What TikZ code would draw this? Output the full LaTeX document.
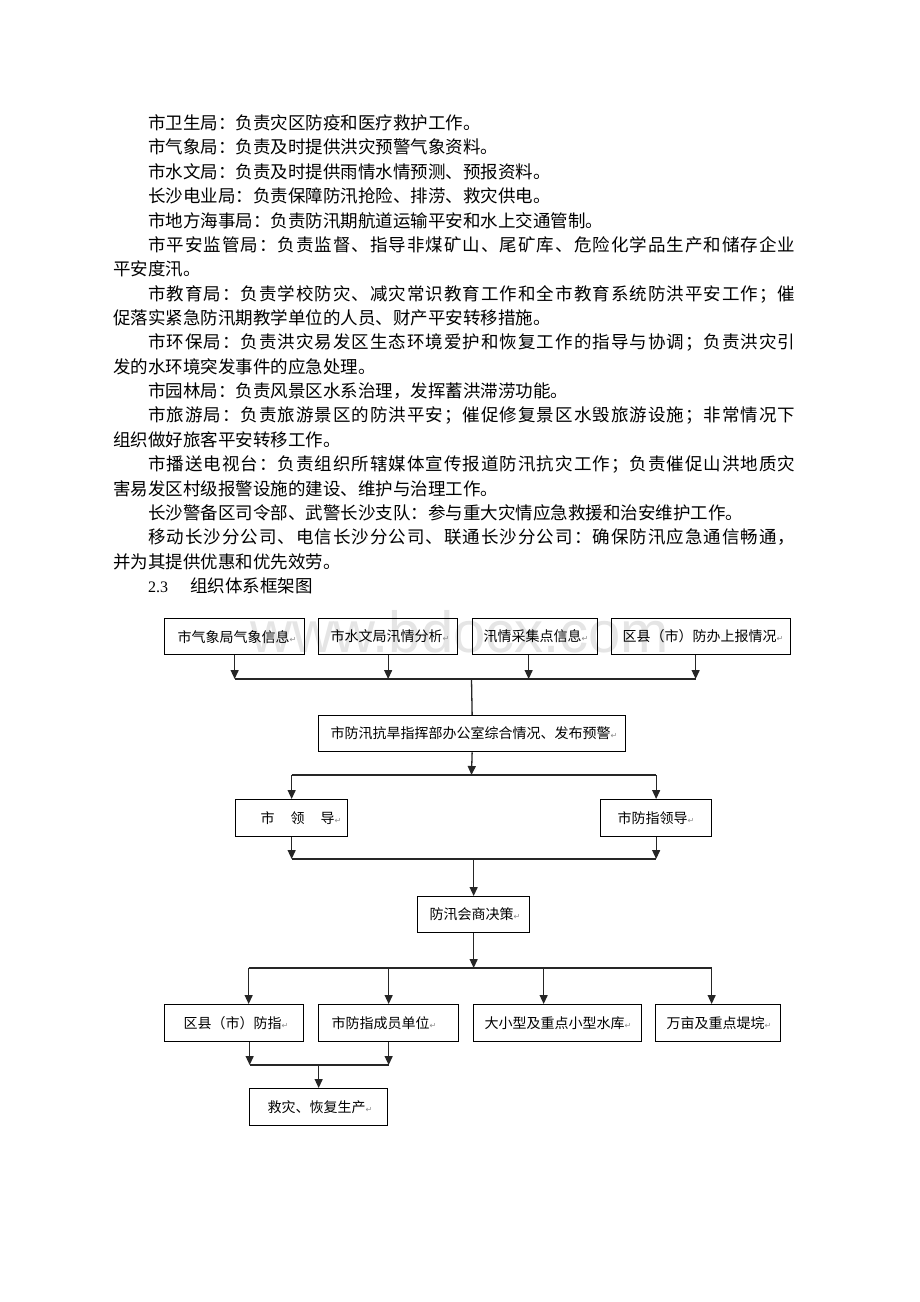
\documentclass[tikz,border=0pt]{standalone}
\usepackage{fontspec}
\usetikzlibrary{arrows.meta,calc}
\newfontfamily\cjk{Noto Sans CJK SC}
\newfontfamily\tnr{Liberation Serif}
\newfontfamily\dvs{DejaVu Sans}
\newfontfamily\arl{Liberation Sans}
\ExplSyntaxOn
\NewDocumentCommand\spreadline{mm}{\hbox_to_wd:nn{#1}{\tl_map_inline:nn{#2}{##1\hfil}\unskip}}
\ExplSyntaxOff
\newcommand\bodyfont{\cjk\fontsize{17.5pt}{20pt}\selectfont}
\newcommand\boxfont{\cjk\fontsize{14pt}{16pt}\selectfont}
\newcommand\bx[3]{\makebox[#1pt][l]{\hspace*{#2pt}#3{\dvs\fontsize{8pt}{8pt}\selectfont\color{black!45}↵}}}
\tikzset{
  txt/.style={anchor=base west, inner sep=0pt, font=\bodyfont},
  box/.style={draw=black, line width=1.3pt, inner sep=0pt, minimum height=36pt, anchor=north west, font=\boxfont},
  conn/.style={line width=1.3pt, draw=black!85},
  arr/.style={conn, -{Triangle[length=9pt,width=8pt]}},
}
\begin{document}
\begin{tikzpicture}[x=1pt,y=-1pt]
\useasboundingbox (0,0) rectangle (920,1302);
\fill[white] (0,0) rectangle (920,1302);
% body text
\node[txt] (t1) at (148,129.5) {市卫生局：负责灾区防疫和医疗救护工作。};
\node[txt] (t2) at (148,153.9) {市气象局：负责及时提供洪灾预警气象资料。};
\node[txt] (t3) at (148,178.2) {市水文局：负责及时提供雨情水情预测、预报资料。};
\node[txt] (t4) at (148,202.6) {长沙电业局：负责保障防汛抢险、排涝、救灾供电。};
\node[txt] (t5) at (148,227.0) {市地方海事局：负责防汛期航道运输平安和水上交通管制。};
\node[txt] (t6) at (148,251.3) {\spreadline{647pt}{市平安监管局：负责监督、指导非煤矿山、尾矿库、危险化学品生产和储存企业}};
\node[txt] (t7) at (113,275.7) {平安度汛。};
\node[txt] (t8) at (148,300.1) {\spreadline{647pt}{市教育局：负责学校防灾、减灾常识教育工作和全市教育系统防洪平安工作；催}};
\node[txt] (t9) at (113,324.5) {促落实紧急防汛期教学单位的人员、财产平安转移措施。};
\node[txt] (t10) at (148,348.8) {\spreadline{647pt}{市环保局：负责洪灾易发区生态环境爱护和恢复工作的指导与协调；负责洪灾引}};
\node[txt] (t11) at (113,373.2) {发的水环境突发事件的应急处理。};
\node[txt] (t12) at (148,397.6) {市园林局：负责风景区水系治理，发挥蓄洪滞涝功能。};
\node[txt] (t13) at (148,421.9) {\spreadline{647pt}{市旅游局：负责旅游景区的防洪平安；催促修复景区水毁旅游设施；非常情况下}};
\node[txt] (t14) at (113,446.3) {组织做好旅客平安转移工作。};
\node[txt] (t15) at (148,470.7) {\spreadline{647pt}{市播送电视台：负责组织所辖媒体宣传报道防汛抗灾工作；负责催促山洪地质灾}};
\node[txt] (t16) at (113,495.0) {害易发区村级报警设施的建设、维护与治理工作。};
\node[txt] (t17) at (148,519.4) {长沙警备区司令部、武警长沙支队：参与重大灾情应急救援和治安维护工作。};
\node[txt] (t18) at (148,543.8) {\spreadline{647pt}{移动长沙分公司、电信长沙分公司、联通长沙分公司：确保防汛应急通信畅通，}};
\node[txt] (t19) at (113,568.2) {并为其提供优惠和优先效劳。};
\node[txt, font=\tnr\fontsize{16pt}{18pt}\selectfont] (t20) at (148,592.5) {2.3};
\node[txt] (t21) at (190,592.5) {组织体系框架图};
% watermark
\node[anchor=base west, inner sep=0pt, font=\arl\fontsize{58pt}{58pt}\selectfont, text=black!10] (wm) at (250,652) {www.bdocx.com};
% boxes
\node[box] (b1) at (164,618) {\bx{140}{13}{市气象局气象信息}};
\node[box] (b2) at (318,618) {\bx{139}{12}{市水文局汛情分析}};
\node[box] (b3) at (472,618) {\bx{125}{11}{汛情采集点信息}};
\node[box] (b4) at (611,618) {\bx{179}{11}{区县（市）防办上报情况}};
\node[box] (m1) at (318,715) {\bx{307}{12}{市防汛抗旱指挥部办公室综合情况、发布预警}};
\node[box, minimum height=37pt] (l1) at (235,799) {\bx{112}{25}{市\hspace{16pt}领\hspace{16pt}导}};
\node[box, minimum height=37pt] (l2) at (600,799) {\bx{111}{17}{市防指领导}};
\node[box] (d1) at (417,896) {\bx{112}{12}{防汛会商决策}};
\node[box, minimum height=37pt] (c1) at (164,1004) {\bx{139}{19}{区县（市）防指}};
\node[box, minimum height=37pt] (c2) at (318,1004) {\bx{140}{13}{市防指成员单位}};
\node[box, minimum height=37pt] (c3) at (473,1004) {\bx{168}{11}{大小型及重点小型水库}};
\node[box, minimum height=37pt] (c4) at (655,1004) {\bx{125}{11}{万亩及重点堤垸}};
\node[box, minimum height=37pt] (r1) at (249,1088) {\bx{138}{18}{救灾、恢复生产}};
% junctions
\coordinate (J1) at (471.5,679);
\coordinate (J2) at (471.5,775);
\coordinate (J3) at (471.5,859);
\coordinate (J4) at (471.5,968);
\coordinate (J5) at (317,1065);
% top row to office
\draw[arr] (b1.south) -- (b1.south |- J1);
\draw[arr] (b2.south) -- (b2.south |- J1);
\draw[arr] ($(b3.south)+(-6.5,0)$) -- ($(b3.south |- J1)+(-6.5,0)$);
\draw[arr] ($(b4.south)+(-5.5,0)$) -- ($(b4.south |- J1)+(-5.5,0)$);
\draw[conn] (b1.south |- J1) -- ($(b4.south |- J1)+(-5.5,0)$);
\draw[conn] (J1) -- (m1.north);
% office to leaders
\draw[arr] (m1.south) -- (J2);
\draw[conn] (l1.north |- J2) -- (l2.north |- J2);
\draw[arr] (l1.north |- J2) -- (l1.north);
\draw[arr] (l2.north |- J2) -- (l2.north);
% leaders to decision
\draw[arr] (l1.south) -- (l1.south |- J3);
\draw[arr] (l2.south) -- (l2.south |- J3);
\draw[conn] (l1.south |- J3) -- (l2.south |- J3);
\draw[arr] (d1.north |- J3) -- (d1.north);
% decision to units
\draw[arr] (d1.south) -- (d1.south |- J4);
\draw[conn] ($(c1.north |- J4)+(14.5,0)$) -- ($(c4.north |- J4)+(-6.5,0)$);
\draw[arr] ($(c1.north |- J4)+(14.5,0)$) -- ($(c1.north)+(14.5,0)$);
\draw[arr] (c2.north |- J4) -- (c2.north);
\draw[arr] ($(c3.north |- J4)+(-14,0)$) -- ($(c3.north)+(-14,0)$);
\draw[arr] ($(c4.north |- J4)+(-6.5,0)$) -- ($(c4.north)+(-6.5,0)$);
% units to relief
\draw[arr] ($(c1.south)+(15.5,0)$) -- ($(c1.south |- J5)+(15.5,0)$);
\draw[arr] (c2.south) -- (c2.south |- J5);
\draw[conn] ($(c1.south |- J5)+(15.5,0)$) -- (c2.south |- J5);
\draw[arr] (r1.north |- J5) -- (r1.north);
\end{tikzpicture}
\end{document}
